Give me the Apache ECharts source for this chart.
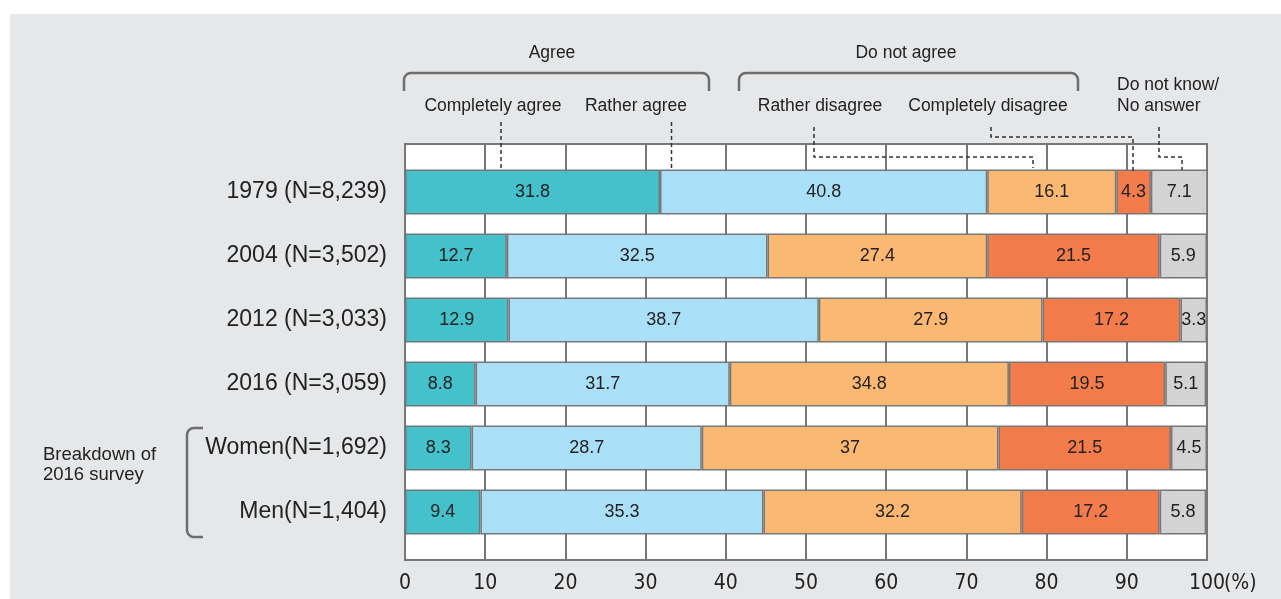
<!DOCTYPE html>
<html>
<head>
<meta charset="utf-8">
<script src="https://cdn.jsdelivr.net/npm/echarts@6/dist/echarts.min.js"></script>
<style>
html,body{margin:0;padding:0;background:#fff;}
#bg{position:absolute;left:10px;top:14px;width:1271px;height:585px;background:#e6e7e9;}
#main{position:absolute;left:0;top:0;width:1281px;height:599px;}
</style>
</head>
<body>
<div id="bg"></div>
<div id="main"></div>
<script>
const categories = ['1979 (N=8,239)', '2004 (N=3,502)', '2012 (N=3,033)', '2016 (N=3,059)', 'Women(N=1,692)', 'Men(N=1,404)'];
const seriesNames = ['Completely agree', 'Rather agree', 'Rather disagree', 'Completely disagree', 'Do not know/No answer'];
const completelyAgree = [31.8, 12.7, 12.9, 8.8, 8.3, 9.4];
const ratherAgree = [40.8, 32.5, 38.7, 31.7, 28.7, 35.3];
const ratherDisagree = [16.1, 27.4, 27.9, 34.8, 37, 32.2];
const completelyDisagree = [4.3, 21.5, 17.2, 19.5, 21.5, 17.2];
const dontKnow = [7.1, 5.9, 3.3, 5.1, 4.5, 5.8];
const colors = ['#45c1cc', '#aadff8', '#fbb872', '#f47c4c', '#d3d3d3'];

const FONT = '"Liberation Sans", Arial, Helvetica, sans-serif';
const TXT = '#222';

const chart = echarts.init(document.getElementById('main'), null, {renderer: 'canvas'});

const allData = [completelyAgree, ratherAgree, ratherDisagree, completelyDisagree, dontKnow];
const series = allData.map((d, i) => ({
  name: seriesNames[i],
  type: 'bar',
  stack: 'total',
  xAxisIndex: 1,
  yAxisIndex: 1,
  barWidth: 45,
  data: d,
  itemStyle: {color: colors[i], borderColor: '#777', borderWidth: 1.5},
  label: {show: true, position: 'inside', color: TXT, fontSize: 18, fontFamily: FONT},
  emphasis: {disabled: true},
  animation: false
}));

function dashed(points) {
  return {type: 'polyline', z: 100, shape: {points: points},
    style: {stroke: '#333', lineWidth: 1.5, lineDash: [4, 3], fill: null}};
}
function text(x, y, t, align) {
  return {type: 'text', z: 100, x: x, y: y,
    style: {text: t, fill: TXT, font: '17.5px ' + FONT, align: align || 'center', verticalAlign: 'middle'}};
}
// quarter-circle corner points
function corner(cx, cy, r, a0, a1) {
  const pts = [];
  for (let k = 0; k <= 6; k++) {
    const a = a0 + (a1 - a0) * k / 6;
    pts.push([cx + r * Math.cos(a), cy + r * Math.sin(a)]);
  }
  return pts;
}
function topBracket(x0, x1, yTop, yBot) {
  const r = 7;
  const pts = [[x0, yBot]]
    .concat(corner(x0 + r, yTop + r, r, Math.PI, 1.5 * Math.PI))
    .concat(corner(x1 - r, yTop + r, r, 1.5 * Math.PI, 2 * Math.PI))
    .concat([[x1, yBot]]);
  return {type: 'polyline', z: 100, shape: {points: pts},
    style: {stroke: '#6e6e6e', lineWidth: 2.5, fill: null}};
}
function leftBracket(x, xEnd, y0, y1) {
  const r = 7;
  const pts = [[xEnd, y0]]
    .concat(corner(x + r, y0 + r, r, 1.5 * Math.PI, Math.PI))
    .concat(corner(x + r, y1 - r, r, Math.PI, 0.5 * Math.PI))
    .concat([[xEnd, y1]]);
  return {type: 'polyline', z: 100, shape: {points: pts},
    style: {stroke: '#6e6e6e', lineWidth: 2.5, fill: null}};
}

const TICKFONT = '"DejaVu Sans", ' + FONT;

const option = {
  backgroundColor: 'transparent',
  animation: false,
  grid: [
    {left: 405, top: 144, width: 802, height: 416, show: true, backgroundColor: '#fff', borderColor: '#777', borderWidth: 2},
    {left: 405, top: 160, width: 802, height: 384}
  ],
  xAxis: [
    {gridIndex: 0, type: 'value', min: 0, max: 100, interval: 10,
      axisLine: {show: false}, axisTick: {show: false},
      splitLine: {show: true, lineStyle: {color: '#777', width: 2}},
      axisLabel: {color: TXT, fontSize: 21, fontStyle: 'condensed', fontFamily: TICKFONT, margin: 13,
        formatter: v => String(v)}},
    {gridIndex: 1, type: 'value', min: 0, max: 100, show: false}
  ],
  yAxis: [
    {gridIndex: 0, type: 'value', show: false},
    {gridIndex: 1, type: 'category', inverse: true, data: categories,
      axisLine: {show: false}, axisTick: {show: false},
      axisLabel: {color: TXT, fontSize: 23, fontFamily: FONT, margin: 18}}
  ],
  series: series,
  graphic: [
    {type: 'text', z: 100, x: 1224, y: 584,
      style: {text: '(%)', fill: TXT, font: 'condensed 21px ' + TICKFONT, align: 'left', verticalAlign: 'middle'}},
    text(552, 53, 'Agree'),
    text(906, 53, 'Do not agree'),
    topBracket(404, 709, 73, 91),
    topBracket(739, 1078, 73, 91),
    text(493, 106, 'Completely agree'),
    text(636, 106, 'Rather agree'),
    text(820, 106, 'Rather disagree'),
    text(988, 106, 'Completely disagree'),
    text(1117, 85, 'Do not know/', 'left'),
    text(1117, 106, 'No answer', 'left'),
    dashed([[501, 122], [501, 169]]),
    dashed([[671.5, 122], [671.5, 169]]),
    dashed([[814, 127], [814, 157], [1033, 157], [1033, 168]]),
    dashed([[991, 127], [991, 137], [1133, 137], [1133, 173]]),
    dashed([[1159, 127], [1159, 157], [1182, 157], [1182, 170]]),
    leftBracket(187, 203, 428, 537),
    {type: 'text', z: 100, x: 43, y: 465,
      style: {text: 'Breakdown of\n2016 survey', fill: TXT, font: '18.5px ' + FONT, align: 'left', verticalAlign: 'middle', lineHeight: 20}}
  ]
};
chart.setOption(option);
</script>
</body>
</html>
